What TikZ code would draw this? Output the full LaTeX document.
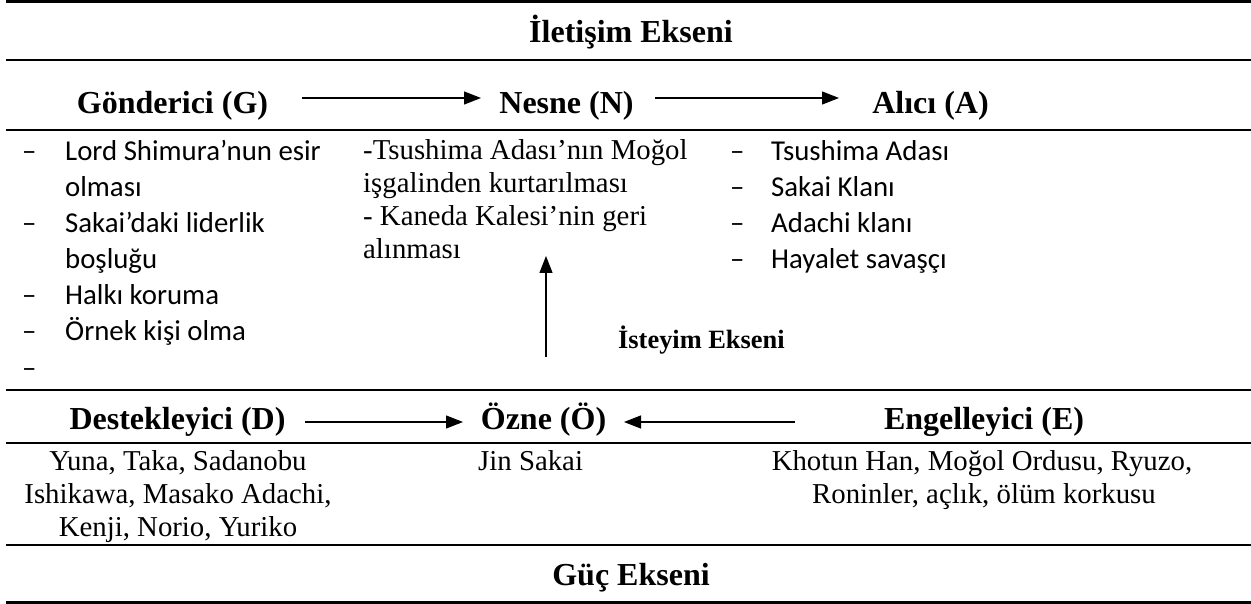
\documentclass[tikz,border=0pt]{standalone}
\usepackage{fontspec}
\setmainfont{Liberation Serif}
\newfontfamily\calfont{Carlito}
\usetikzlibrary{arrows.meta}
\begin{document}
\begin{tikzpicture}[x=1pt,y=-1pt]
\tikzset{
 rule/.style={line width=2.4pt},
 arr/.style={line width=1.3pt, -{Triangle[length=17pt,width=13pt]}},
 hd/.style={font=\fontsize{32}{38}\selectfont\bfseries, inner sep=0pt, anchor=base},
 subhd/.style={font=\fontsize{26.4}{32}\selectfont\bfseries, inner sep=0pt, anchor=base west},
 cb/.style={font=\calfont\fontsize{28.8}{35}\selectfont, inner sep=0pt, anchor=base west},
 tb/.style={font=\fontsize{28.8}{33}\selectfont, inner sep=0pt, anchor=base west},
 tc/.style={font=\fontsize{28.8}{33}\selectfont, inner sep=0pt, anchor=base},
}
\useasboundingbox (0,0) rectangle (1251,604);

% horizontal rules
\draw[rule] (6,1.5) -- (1251,1.5);
\draw[rule] (6,60) -- (1251,60);
\draw[rule] (6,130) -- (1251,130);
\draw[rule] (6,390) -- (1251,390);
\draw[rule] (6,443) -- (1251,443);
\draw[rule] (6,545) -- (1251,545);
\draw[rule] (6,602.5) -- (1251,602.5);

% titles
\node[hd] (ile) at (631,43) {İletişim Ekseni};
\node[hd] (guc) at (631,585) {Güç Ekseni};

% row 2
\node[hd] (G) at (172.5,114) {Gönderici (G)};
\node[hd] (N) at (566.5,114) {Nesne (N)};
\node[hd] (A) at (930.5,114) {Alıcı (A)};
\coordinate (a1s) at (302,98);
\coordinate (a1e) at (481,98);
\coordinate (a2s) at (655,98);
\coordinate (a2e) at (839,98);
\draw[arr] (a1s) -- (a1e);
\draw[arr] (a2s) -- (a2e);

% left list
\foreach \y/\nm in {161/l1,233/l3,305/l5,341/l6,377/l7}
  \node[cb] (\nm d) at (22,\y) {–};
\node[cb] (l1) at (65,161) {Lord Shimura’nun esir};
\node[cb] (l2) at (65,197) {olması};
\node[cb] (l3) at (65,233) {Sakai’daki liderlik};
\node[cb] (l4) at (65,269) {boşluğu};
\node[cb] (l5) at (65,305) {Halkı koruma};
\node[cb] (l6) at (65,341) {Örnek kişi olma};

% middle text
\node[tb] (m1) at (363,160) {-Tsushima Adası’nın Moğol};
\node[tb] (m2) at (363,193) {işgalinden kurtarılması};
\node[tb] (m3) at (363,226) {- Kaneda Kalesi’nin geri};
\node[tb] (m4) at (363,259) {alınması};

% right list
\foreach \y/\nm in {161/r1,197/r2,233/r3,269/r4}
  \node[cb] (\nm d) at (730,\y) {–};
\node[cb] (r1) at (771,161) {Tsushima Adası};
\node[cb] (r2) at (771,197) {Sakai Klanı};
\node[cb] (r3) at (771,233) {Adachi klanı};
\node[cb] (r4) at (771,269) {Hayalet savaşçı};

% vertical axis
\coordinate (vs) at (546,357);
\coordinate (ve) at (546,256);
\draw[arr] (vs) -- (ve);
\node[subhd] (ist) at (618,348) {İsteyim Ekseni};

% row 5
\node[hd] (D) at (177.5,429) {Destekleyici (D)};
\node[hd] (O) at (543.5,429) {Özne (Ö)};
\node[hd] (E) at (984,429) {Engelleyici (E)};
\coordinate (b1s) at (305,422);
\coordinate (b1e) at (463,422);
\coordinate (b2s) at (795,422);
\coordinate (b2e) at (624,422);
\draw[arr] (b1s) -- (b1e);
\draw[arr] (b2s) -- (b2e);

% bottom texts
\node[tc] (d1) at (178,470) {Yuna, Taka, Sadanobu};
\node[tc] (d2) at (178,503) {Ishikawa, Masako Adachi,};
\node[tc] (d3) at (178,536) {Kenji, Norio, Yuriko};
\node[tb] (o1) at (478,470) {Jin Sakai};
\node[tc] (e1) at (982,470) {Khotun Han, Moğol Ordusu, Ryuzo,};
\node[tc] (e2) at (984,503) {Roninler, açlık, ölüm korkusu};
\end{tikzpicture}
\end{document}
